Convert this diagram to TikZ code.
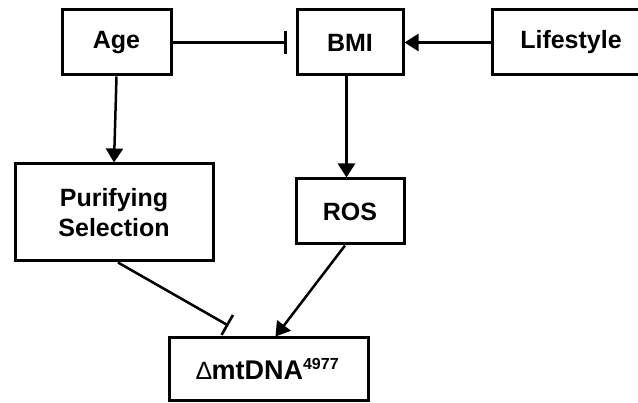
\documentclass[tikz,border=0pt]{standalone}
\usepackage{fontspec}
\setmainfont{Liberation Sans}
\usetikzlibrary{arrows.meta,calc}
\begin{document}
\begin{tikzpicture}[x=1pt,y=-1pt,
  box/.style={draw,line width=3pt,rectangle,inner sep=0pt,align=center,
    font=\fontsize{25}{30}\selectfont\bfseries},
  conn/.style={line width=2.5pt},
  act/.style={conn,-{Triangle[length=14pt,width=17pt]}},
  inh/.style={conn,-{Bar[width=23pt,line width=2.6pt]}}]
\useasboundingbox (0,0) rectangle (638,403);
\clip (0,0) rectangle (638,403);
\node[box,minimum width=109pt,minimum height=65pt] (age) at (116.5,42.5) {Age};
\node[box,minimum width=106pt,minimum height=65pt] (bmi) at (350,42.5) {BMI};
\node[box,minimum width=160pt,minimum height=65pt,text width=160pt] (life) at (572,42.5) {\hspace*{-2pt}Lifestyle};
\node[box,minimum width=198pt,minimum height=97pt] (pur) at (114,212.5) {Purifying\\Selection};
\node[box,minimum width=108pt,minimum height=65pt] (ros) at (350,211.5) {ROS};
\node[box,minimum width=199pt,minimum height=63pt] (dna) at (268.5,369.5)
  {\hspace*{-2pt}{\mdseries\fontsize{25}{25}\selectfont ∆}{\fontsize{27}{27}\selectfont mtDNA}\raisebox{10pt}{\fontsize{16}{16}\selectfont 4977}};
\draw[inh,shorten >=9pt] (age.east) -- (bmi.west);
\draw[act] (life.west |- bmi.east) -- (bmi.east);
\draw[act] (age.south) -- (pur.north);
\draw[act] ([xshift=-3.5pt]bmi.south) -- ([xshift=-3.5pt]ros.north);
\draw[inh,shorten >=22pt] ([xshift=4pt]pur.south) -- ($(dna.north west)+(80,0)$);
\draw[act] ([xshift=-5pt]ros.south) -- ($(dna.north west)+(108,0)$);
\end{tikzpicture}
\end{document}
